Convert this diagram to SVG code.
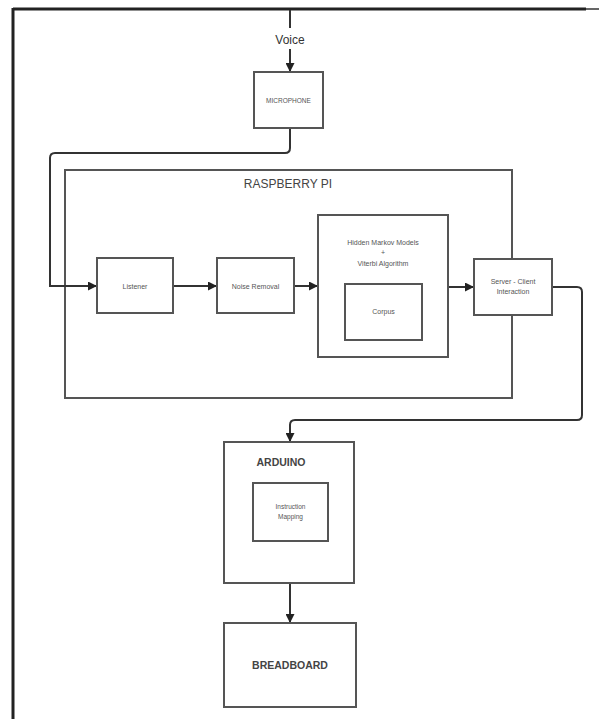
<svg xmlns="http://www.w3.org/2000/svg" width="599" height="719" viewBox="0 0 599 719">
<style>
.box{fill:#fff;stroke:#555;stroke-width:2}
.wire{fill:none;stroke:#333;stroke-width:2}
.t{font-family:"Liberation Sans",Arial,sans-serif;fill:#555;text-anchor:middle}
.s{font-size:7px}
.m{font-size:11.5px;fill:#444;font-weight:bold}
</style>
<defs>
<marker id="ahb" viewBox="0 0 10 10" refX="10" refY="5" markerWidth="9" markerHeight="9" orient="auto" markerUnits="userSpaceOnUse">
<path d="M0,0 L10,5 L0,10 z" fill="#222"/>
</marker>
</defs>
<rect width="599" height="719" fill="#fff"/>
<g id="frame">
<line x1="13" y1="9" x2="586" y2="9" stroke="#222" stroke-width="3"/>
<line x1="586" y1="9" x2="599" y2="9" stroke="#666" stroke-width="2"/>
<line x1="13" y1="8" x2="13" y2="719" stroke="#222" stroke-width="3"/>
</g>
<g id="raspberry-pi">
<rect class="box" x="65" y="170" width="447" height="228"/>
<text class="t m" x="288" y="188" style="font-weight:normal;font-size:12px">RASPBERRY PI</text>
</g>
<g id="connectors">
<line class="wire" x1="290" y1="10" x2="290" y2="28"/>
<line class="wire" x1="290" y1="49" x2="290" y2="72" marker-end="url(#ahb)"/>
<path class="wire" d="M290,128 V148 Q290,153 285,153 H55 Q50,153 50,158 V286 H97" marker-end="url(#ahb)"/>
<line class="wire" x1="173" y1="286" x2="217" y2="286" marker-end="url(#ahb)"/>
<line class="wire" x1="294" y1="286" x2="318" y2="286" marker-end="url(#ahb)"/>
<line class="wire" x1="448" y1="287" x2="474" y2="287" marker-end="url(#ahb)"/>
<path class="wire" d="M552,287 H577 Q582,287 582,292 V415 Q582,420 577,420 H295 Q290,420 290,425 V442" marker-end="url(#ahb)"/>
<line class="wire" x1="290" y1="583" x2="290" y2="623" marker-end="url(#ahb)"/>
</g>
<g id="voice">
<text class="t m" x="290" y="44" style="fill:#333;font-weight:normal;font-size:12px">Voice</text>
</g>
<g id="microphone">
<rect class="box" x="254" y="72" width="69" height="56"/>
<text class="t s" x="288.5" y="102.5" style="font-size:6.5px">MICROPHONE</text>
</g>
<g id="listener">
<rect class="box" x="97" y="258" width="76" height="55"/>
<text class="t s" x="135" y="288.5">Listener</text>
</g>
<g id="noise-removal">
<rect class="box" x="217" y="258" width="77" height="55"/>
<text class="t s" x="255.5" y="288.5">Noise Removal</text>
</g>
<g id="hmm">
<rect class="box" x="318" y="215" width="130" height="142"/>
<text class="t s" x="383" y="245">Hidden Markov Models</text>
<text class="t s" x="383" y="255">+</text>
<text class="t s" x="383" y="266">Viterbi Algorithm</text>
</g>
<g id="corpus">
<rect class="box" x="345" y="284" width="77" height="56"/>
<text class="t s" x="383.5" y="314">Corpus</text>
</g>
<g id="server-client">
<rect class="box" x="474" y="259" width="78" height="56"/>
<text class="t s" x="513" y="284">Server - Client</text>
<text class="t s" x="513" y="294">Interaction</text>
</g>
<g id="arduino">
<rect class="box" x="224" y="442" width="130" height="141"/>
<text class="t m" x="281" y="466" style="font-size:10.5px">ARDUINO</text>
</g>
<g id="instruction-mapping">
<rect class="box" x="253" y="483" width="75" height="58"/>
<text class="t s" x="290.5" y="509" style="font-size:6.5px">Instruction</text>
<text class="t s" x="290.5" y="519" style="font-size:6.5px">Mapping</text>
</g>
<g id="breadboard">
<rect class="box" x="224" y="623" width="132" height="84"/>
<text class="t m" x="290" y="669" style="font-size:10.5px">BREADBOARD</text>
</g>
</svg>
